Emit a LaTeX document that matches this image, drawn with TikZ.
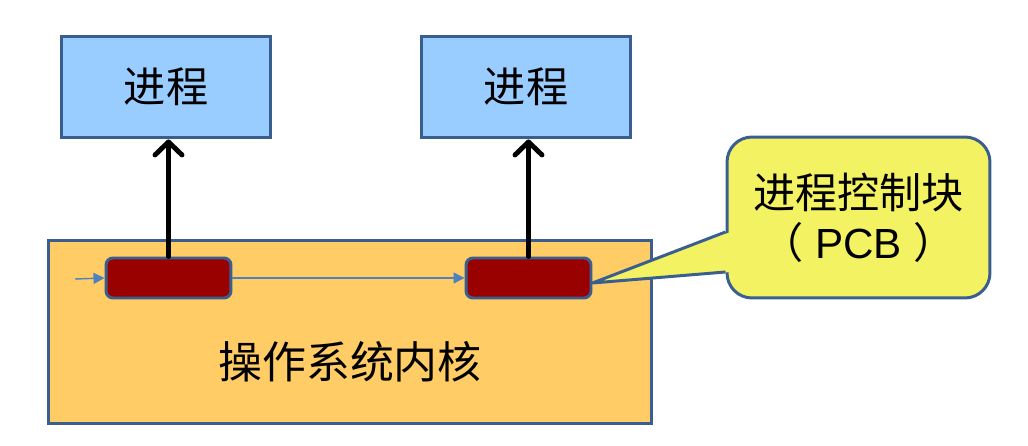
\documentclass[tikz,border=0pt]{standalone}
\usepackage{fontspec}
\setmainfont{Noto Sans CJK SC}
\newfontfamily\latinsans{Liberation Sans}
\usetikzlibrary{arrows.meta,calc,positioning}
\definecolor{edgeblue}{HTML}{3A5F8E}
\definecolor{procblue}{HTML}{99CCFF}
\definecolor{kernorange}{HTML}{FFCC66}
\definecolor{pcbred}{HTML}{990000}
\definecolor{noteyellow}{HTML}{F3F262}
\definecolor{linkblue}{HTML}{4F81BD}

\begin{document}
\begin{tikzpicture}[
  x=0.02cm, y=-0.02cm,
  proc/.style={draw=edgeblue, line width=1.7pt, fill=procblue, minimum width=4.2cm, minimum height=2.04cm, font=\fontsize{24}{28}\selectfont},
  kern/.style={draw=edgeblue, line width=1.7pt, fill=kernorange, minimum width=12.08cm, minimum height=3.68cm},
  pcb/.style={draw=edgeblue, line width=1.7pt, fill=pcbred, rounded corners=4pt, minimum width=2.5cm, minimum height=0.8cm},
  note/.style={draw=edgeblue, line width=1.7pt, fill=noteyellow, rounded corners=0.5cm, minimum width=5.26cm, minimum height=3.22cm, align=center, font=\fontsize{24}{28.5}\selectfont},
  up/.style={-{Straight Barb[round,length=2.6mm,width=5.4mm]}, line width=2.8pt, line cap=round},
  link/.style={-{Triangle[length=2.2mm,width=2.2mm]}, linkblue, line width=0.8pt}
]
\useasboundingbox (0,0) rectangle (1028,446);

\node[proc] (p1) at (166,87) {进程};
\node[proc] (p2) at (526,87) {进程};

\node[kern] (kernel) at (350,332) {};
\node[font=\fontsize{25}{30}\selectfont] (klabel) at (350,362) {操作系统内核};

\node[pcb] (b1) at (168.5,278) {};
\node[pcb] (b2) at (528.5,278) {};

\coordinate (start) at (75,279);
\draw[link] (start) -- (b1.west);
\draw[link] (b1.east) -- (b2.west);

\draw[up] (b1.north) -- (b1.north |- p1.south);
\draw[up] (b2.north) -- (b2.north |- p2.south);

% callout with pointer to the second PCB
\node[note] (pcbnote) at (858.5,217.5) {进程控制块\\（{\latinsans\ PCB\ }）};
\coordinate (tip) at ([yshift=-0.1cm]b2.east);
\coordinate (hi) at ([yshift=-0.29cm]pcbnote.west);
\coordinate (lo) at ([yshift=-1.09cm]pcbnote.west);
\fill[noteyellow] (tip) -- ([xshift=0.1cm]hi) -- ([xshift=0.1cm]lo) -- cycle;
\draw[edgeblue, line width=1.7pt, line join=round] (hi) -- (tip) -- (lo);
\end{tikzpicture}
\end{document}
